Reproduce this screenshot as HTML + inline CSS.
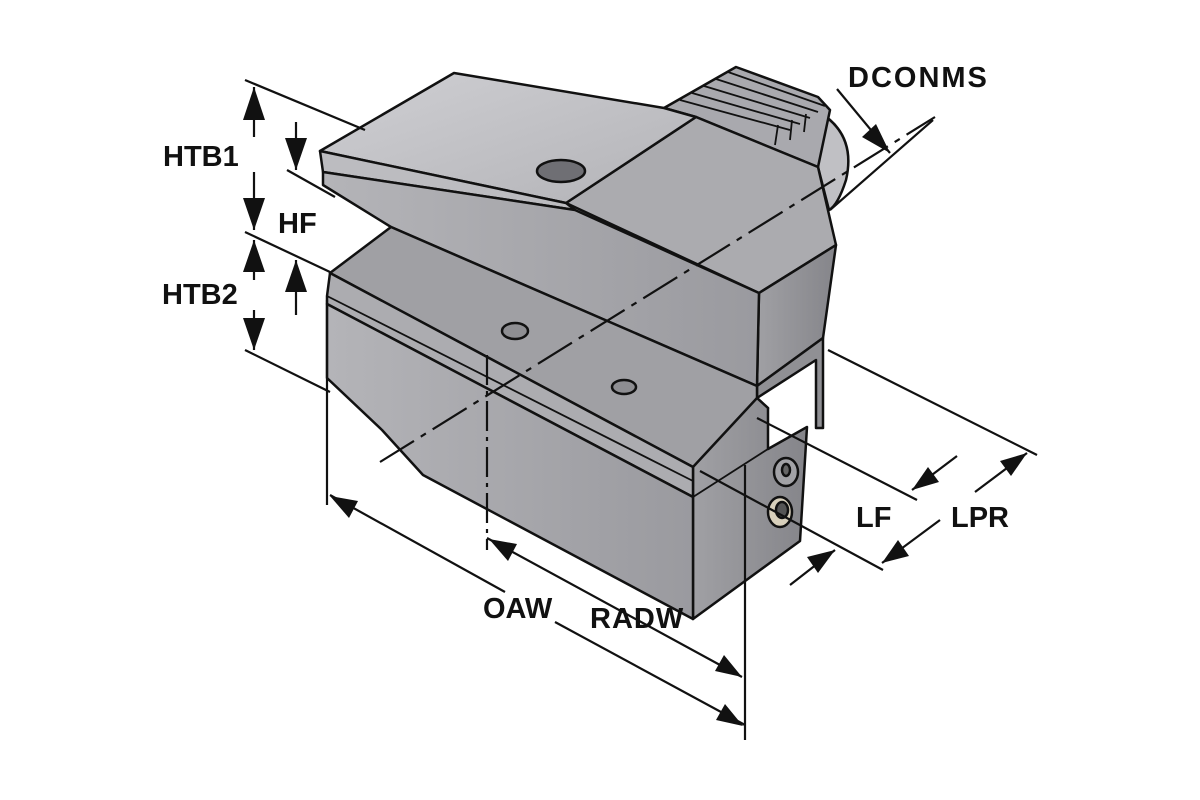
<!DOCTYPE html>
<html><head><meta charset="utf-8"><style>
html,body{margin:0;padding:0;background:#fff;width:1200px;height:800px;overflow:hidden}
text{font-family:"Liberation Sans",Arial,sans-serif;font-weight:bold;font-size:29px;fill:#111}
</style></head><body>
<svg width="1200" height="800" viewBox="0 0 1200 800" xmlns="http://www.w3.org/2000/svg">
<defs>
<linearGradient id="gTop" x1="0" y1="0" x2="1" y2="1"><stop offset="0" stop-color="#cfcfd3"/><stop offset="1" stop-color="#b3b3b7"/></linearGradient>
<linearGradient id="gFront" x1="0" y1="0" x2="1" y2="0"><stop offset="0" stop-color="#b4b4b8"/><stop offset="1" stop-color="#9a9a9f"/></linearGradient>
<linearGradient id="gSide" x1="0" y1="0" x2="1" y2="0"><stop offset="0" stop-color="#a0a0a4"/><stop offset="1" stop-color="#85858a"/></linearGradient>
</defs>
<g stroke="#111" stroke-width="2.5" stroke-linejoin="round">
<path d="M790,100 Q860,120 846,180 Q838,205 829,210 L818,167 Z" fill="#c0c0c4"/>
<polygon points="664,108 736,67 818,97 830,110 818,167 696,117" fill="#a9a9ae"/>
<g stroke-width="1.8" fill="none">
<line x1="680" y1="100" x2="790" y2="130"/><line x1="692" y1="93" x2="800" y2="124"/>
<line x1="704" y1="86" x2="810" y2="118"/><line x1="716" y1="79" x2="818" y2="112"/>
<line x1="728" y1="72" x2="825" y2="106"/>
<line x1="775" y1="145" x2="778" y2="125"/><line x1="790" y1="140" x2="792" y2="120"/><line x1="804" y1="132" x2="806" y2="114"/>
</g>
<polygon points="566,203 696,117 818,167 836,245 759,293" fill="#ababaf"/>
<polygon points="759,293 836,245 823,338 757,386" fill="url(#gSide)"/>
<polygon points="320,151 454,73 664,108 696,117 566,203" fill="url(#gTop)"/>
<polygon points="320,151 566,203 575,210 323,172" fill="#bcbcc0"/>
<polygon points="323,172 575,210 759,293 757,386 391,227 323,185" fill="url(#gFront)"/>
<polygon points="757,386 823,338 823,428 816,428 816,360 757,398" fill="#909094"/>
<polygon points="330,273 391,227 757,386 757,398 768,408 693,467" fill="#a0a0a4"/>
<polygon points="693,467 757,398 768,408 768,449 807,427 800,541 693,619" fill="url(#gSide)"/>
<polygon points="330,273 693,467 693,497 327,304 327,296" fill="#acacb0"/>
<line x1="327" y1="296" x2="693" y2="481" stroke-width="1.8"/>
<polygon points="327,304 693,497 693,619 423,475 382,430 327,378" fill="url(#gFront)"/>
<line x1="693" y1="497" x2="768" y2="449" stroke-width="1.8"/>
<ellipse cx="561" cy="171" rx="24" ry="11" fill="#6f6f74"/>
<ellipse cx="515" cy="331" rx="13" ry="8" fill="#8e8e92"/>
<ellipse cx="624" cy="387" rx="12" ry="7" fill="#8e8e92"/>
<ellipse cx="786" cy="472" rx="12" ry="14" fill="#a2a2a6"/>
<ellipse cx="786" cy="470" rx="4" ry="6" fill="#666"/>
<ellipse cx="780" cy="512" rx="12" ry="15" fill="#d8d0bc"/>
<ellipse cx="782" cy="510" rx="6" ry="8" fill="#555"/>
</g>
<g stroke="#111" stroke-width="2.2" fill="none">
<line x1="245" y1="80" x2="365" y2="130"/>
<line x1="287" y1="170" x2="335" y2="197"/>
<line x1="245" y1="232" x2="330" y2="272"/>
<line x1="245" y1="350" x2="330" y2="392"/>
<line x1="757" y1="418" x2="917" y2="500"/>
<line x1="828" y1="350" x2="1037" y2="455"/>
<line x1="700" y1="471" x2="883" y2="570"/>
<line x1="330" y1="495" x2="505" y2="592"/>
<line x1="555" y1="622" x2="745" y2="725"/>
<line x1="487" y1="538" x2="742" y2="677"/>
<line x1="327" y1="300" x2="327" y2="505"/>
<line x1="487" y1="355" x2="487" y2="550" stroke-dasharray="30,6,4,6"/>
<line x1="745" y1="465" x2="745" y2="740"/>
<line x1="380" y1="462" x2="935" y2="117" stroke-dasharray="40,8,6,8"/>
<line x1="837" y1="89" x2="890" y2="153"/>
<line x1="830" y1="210" x2="933" y2="120"/>
<line x1="254" y1="87" x2="254" y2="137"/><line x1="254" y1="172" x2="254" y2="230"/>
<line x1="254" y1="240" x2="254" y2="280"/><line x1="254" y1="310" x2="254" y2="350"/>
<line x1="296" y1="122" x2="296" y2="170"/><line x1="296" y1="260" x2="296" y2="315"/>
<line x1="957" y1="456" x2="912" y2="490"/><line x1="975" y1="492" x2="1027" y2="453"/>
<line x1="940" y1="520" x2="882" y2="563"/><line x1="790" y1="585" x2="835" y2="550"/>
</g>
<g fill="#111">
<polygon points="254,87 243,120 265,120"/>
<polygon points="254,230 243,198 265,198"/>
<polygon points="254,240 243,272 265,272"/>
<polygon points="254,350 243,318 265,318"/>
<polygon points="296,170 285,138 307,138"/>
<polygon points="296,260 285,292 307,292"/>
<polygon points="330,496 358,501 349,518"/>
<polygon points="743,726 716,720 725,704"/>
<polygon points="489,539 517,544 508,561"/>
<polygon points="742,677 715,671 724,655"/>
<polygon points="890,153 862,137 876,124"/>
<polygon points="912,490 928,467 939,482"/>
<polygon points="1027,453 1011,476 1000,461"/>
<polygon points="882,563 898,540 909,556"/>
<polygon points="835,550 818,573 807,557"/>
</g>
<text x="163" y="166">HTB1</text>
<text x="278" y="233">HF</text>
<text x="162" y="304">HTB2</text>
<text x="848" y="87" letter-spacing="2">DCONMS</text>
<text x="856" y="527">LF</text>
<text x="951" y="527">LPR</text>
<text x="483" y="618">OAW</text>
<text x="590" y="628" letter-spacing="1">RADW</text>
</svg>
</body></html>
